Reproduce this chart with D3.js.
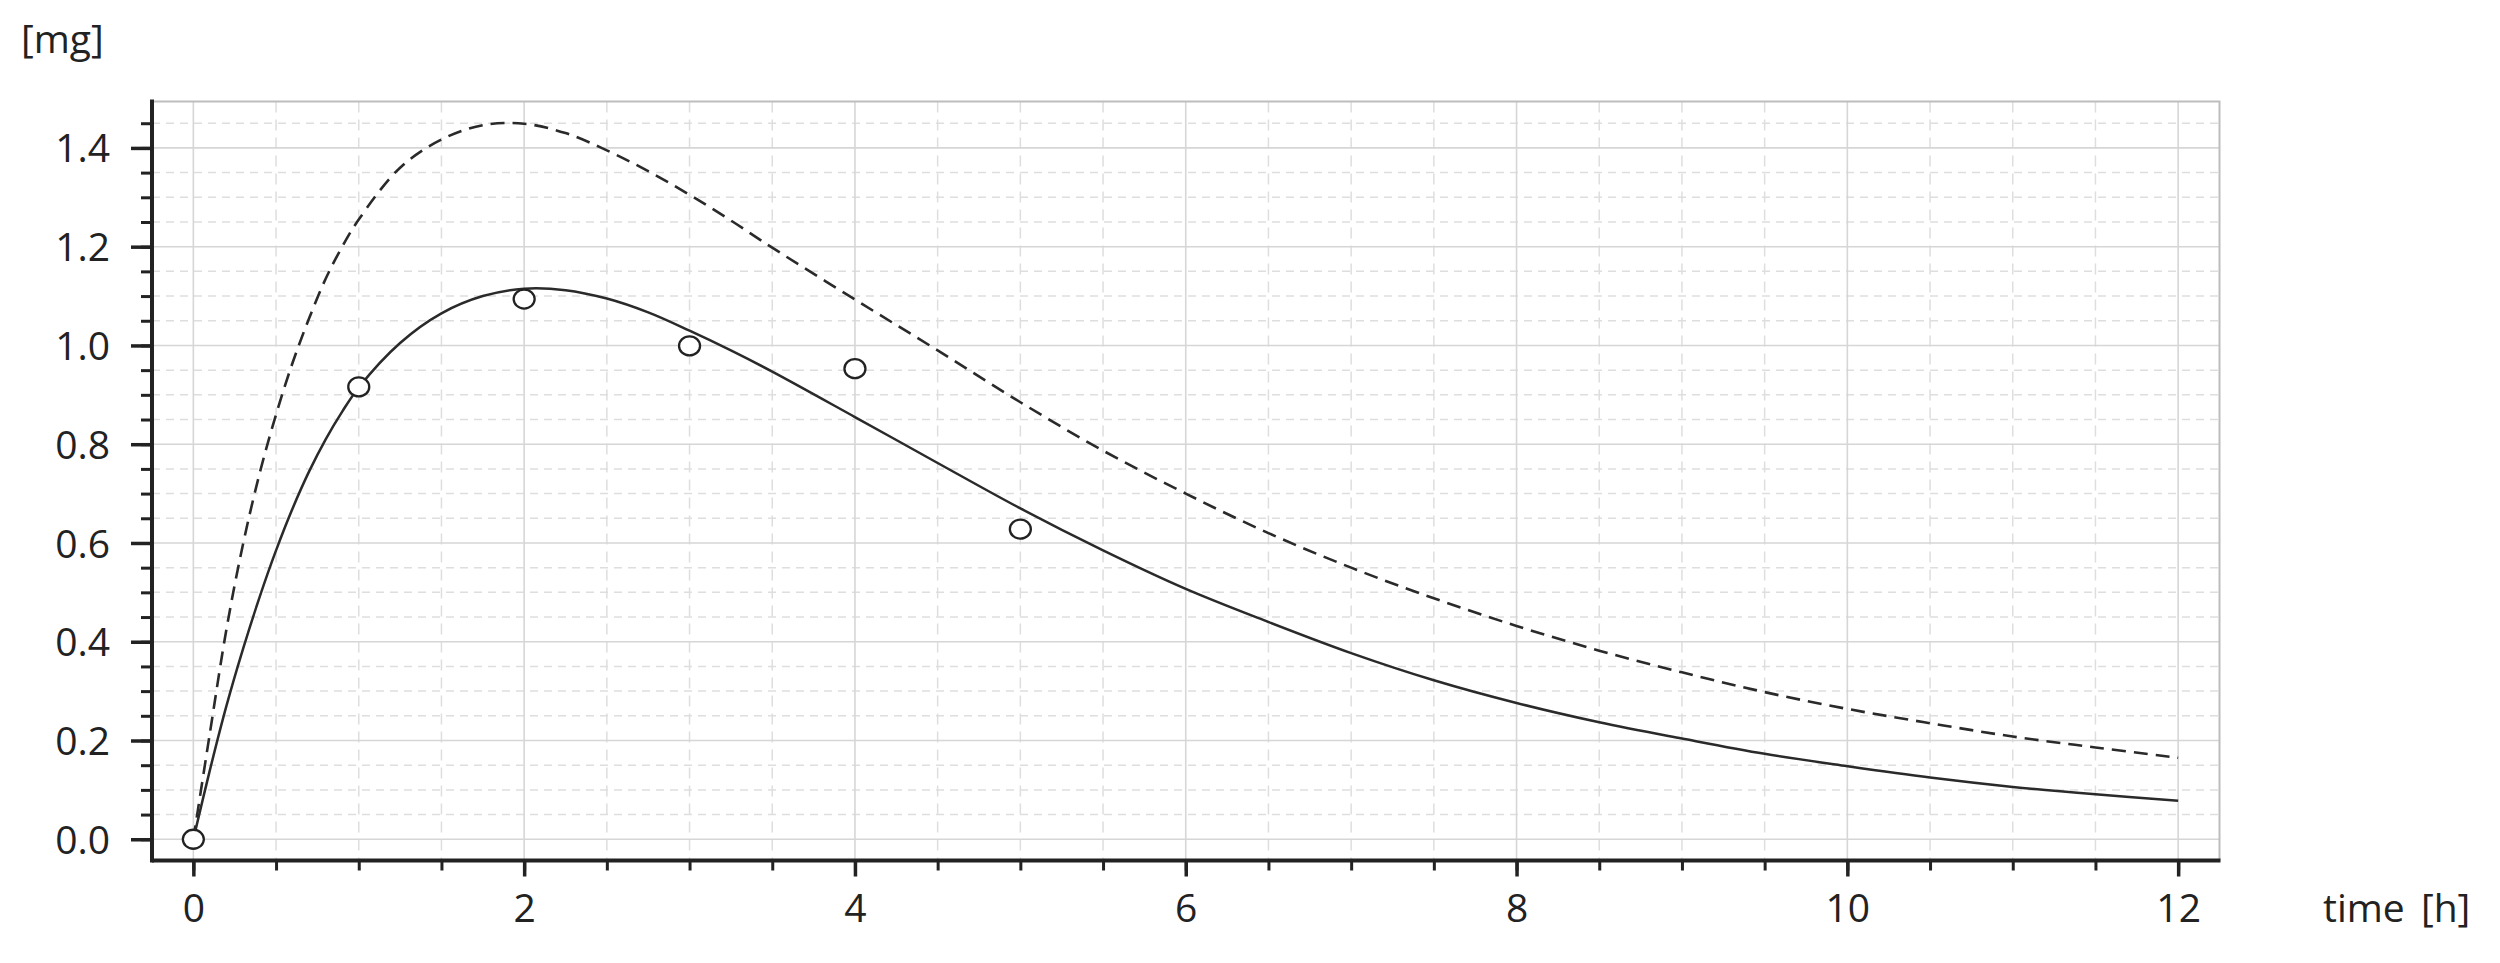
<!DOCTYPE html>
<html>
<head>
<meta charset="utf-8">
<script src="https://cdn.jsdelivr.net/npm/d3@7"></script>
<style>
  html, body { margin: 0; padding: 0; background: #fff; }
  svg { display: block; }
  text { font-family: "Open Sans", "DejaVu Sans", sans-serif; fill: #222; }
</style>
</head>
<body>
<svg id="chart" width="2500" height="963"></svg>
<script>
// ---- data ----
const curveTime = [0, 0.1, 0.2, 0.3, 0.4, 0.5, 0.6, 0.7, 0.8, 0.9, 1.0, 1.25, 1.5, 1.75, 2.0, 2.25, 2.5, 2.75, 3.0, 3.25, 3.5, 4.0, 4.5, 5.0, 5.5, 6.0, 6.5, 7.0, 7.5, 8.0, 8.5, 9.0, 9.5, 10.0, 10.5, 11.0, 11.5, 12.0];
const fittedAmount = [0, 0.14, 0.27, 0.385, 0.49, 0.585, 0.67, 0.745, 0.81, 0.866, 0.915, 1.005, 1.065, 1.10, 1.115, 1.112, 1.095, 1.067, 1.03, 0.99, 0.947, 0.855, 0.762, 0.67, 0.585, 0.507, 0.44, 0.377, 0.322, 0.276, 0.237, 0.204, 0.173, 0.148, 0.125, 0.106, 0.091, 0.078];
const dashedAmount = [0, 0.215, 0.425, 0.597, 0.74, 0.86, 0.965, 1.055, 1.135, 1.20, 1.255, 1.36, 1.417, 1.446, 1.449, 1.43, 1.395, 1.353, 1.305, 1.253, 1.198, 1.093, 0.99, 0.885, 0.787, 0.70, 0.62, 0.55, 0.488, 0.432, 0.382, 0.338, 0.298, 0.264, 0.235, 0.208, 0.186, 0.165];
const obsTime = [0, 1, 2, 3, 4, 5];
const obsAmount = [0, 0.916, 1.094, 0.999, 0.953, 0.628];
const xTickValues = [0, 2, 4, 6, 8, 10, 12];
const xTickLabels = ["0", "2", "4", "6", "8", "10", "12"];
const yTickValues = [0, 0.2, 0.4, 0.6, 0.8, 1.0, 1.2, 1.4];
const yTickLabels = ["0.0", "0.2", "0.4", "0.6", "0.8", "1.0", "1.2", "1.4"];
const xMinorValues = d3.range(0, 12.001, 0.5);
const yMinorValues = d3.range(0, 1.4501, 0.05);
const yUnit = "[mg]";
const xUnit = "time [h]";

// ---- layout ----
const L = 152, R = 2219.5, T = 101.5, B = 860.5;
const FS = 39;
const svg = d3.select("#chart");

const x = d3.scaleLinear().domain([-0.25, 12.25]).range([L, R]);
const y = d3.scaleLinear().domain([-0.043, 1.494]).range([B, T]);

const near = (v, arr) => arr.some(a => Math.abs(a - v) < 1e-6);

// grid
const grid = svg.append("g");
grid.selectAll("line.vmin").data(xMinorValues.filter(v => !near(v, xTickValues)))
  .join("line").attr("x1", d => x(d)).attr("x2", d => x(d)).attr("y1", T).attr("y2", B)
  .attr("stroke", "#dedede").attr("stroke-width", 1.5).attr("stroke-dasharray", "11,7");
grid.selectAll("line.hmin").data(yMinorValues.filter(v => !near(v, yTickValues)))
  .join("line").attr("x1", L).attr("x2", R).attr("y1", d => y(d)).attr("y2", d => y(d))
  .attr("stroke", "#dedede").attr("stroke-width", 1.5).attr("stroke-dasharray", "8,6");
grid.selectAll("line.vmaj").data(xTickValues)
  .join("line").attr("x1", d => x(d)).attr("x2", d => x(d)).attr("y1", T).attr("y2", B)
  .attr("stroke", "#d6d6d6").attr("stroke-width", 1.6);
grid.selectAll("line.hmaj").data(yTickValues)
  .join("line").attr("x1", L).attr("x2", R).attr("y1", d => y(d)).attr("y2", d => y(d))
  .attr("stroke", "#d6d6d6").attr("stroke-width", 1.6);

// border top / right
svg.append("path").attr("d", `M${L},${T}H${R}V${B}`).attr("fill", "none")
  .attr("stroke", "#bdbdbd").attr("stroke-width", 2);

// curves
const line = (vals) => d3.line().x((d, i) => x(curveTime[i])).y(d => y(d))
  .curve(d3.curveCatmullRom.alpha(0.5))(vals);
svg.append("path").attr("d", line(dashedAmount)).attr("fill", "none")
  .attr("stroke", "#2a2a2a").attr("stroke-width", 2.6).attr("stroke-dasharray", "14,8");
svg.append("path").attr("d", line(fittedAmount)).attr("fill", "none")
  .attr("stroke", "#2a2a2a").attr("stroke-width", 2.5);

// observations
svg.selectAll("ellipse.obs").data(obsTime).join("ellipse")
  .attr("cx", d => x(d)).attr("cy", (d, i) => y(obsAmount[i])).attr("rx", 10.5).attr("ry", 9.5)
  .attr("fill", "#fff").attr("stroke", "#222").attr("stroke-width", 2.3);

// axes
const xMinorAxis = d3.axisBottom(x).tickValues(xMinorValues).tickSize(10).tickFormat("").tickSizeOuter(0);
const gxm = svg.append("g").attr("transform", `translate(0,${B})`).call(xMinorAxis);
gxm.select(".domain").remove();
gxm.selectAll(".tick line").attr("stroke", "#222").attr("stroke-width", 3);

const xAxis = d3.axisBottom(x).tickValues(xTickValues).tickSize(16).tickSizeOuter(0)
  .tickFormat((d, i) => xTickLabels[i]);
const gx = svg.append("g").attr("transform", `translate(0,${B})`).call(xAxis);
gx.select(".domain").attr("stroke", "#222").attr("stroke-width", 4).attr("d", `M${L},0H${R + 1}`);
gx.selectAll(".tick line").attr("stroke", "#222").attr("stroke-width", 3.5);
gx.selectAll(".tick text").attr("y", 922 - B).attr("dy", 0)
  .style("font-size", FS + "px").style("font-family", '"Open Sans", sans-serif').attr("fill", "#222");

const yMinorAxis = d3.axisLeft(y).tickValues(yMinorValues).tickSize(11).tickFormat("").tickSizeOuter(0);
const gym = svg.append("g").attr("transform", `translate(${L},0)`).call(yMinorAxis);
gym.select(".domain").remove();
gym.selectAll(".tick line").attr("stroke", "#222").attr("stroke-width", 3);

const yAxis = d3.axisLeft(y).tickValues(yTickValues).tickSize(21).tickPadding(21).tickSizeOuter(0)
  .tickFormat((d, i) => yTickLabels[i]);
const gy = svg.append("g").attr("transform", `translate(${L},0)`).call(yAxis);
gy.select(".domain").attr("stroke", "#222").attr("stroke-width", 4).attr("d", `M0,${T - 2}V${B + 2}`);
gy.selectAll(".tick line").attr("stroke", "#222").attr("stroke-width", 3.5);
gy.selectAll(".tick text").attr("dy", "0.36em")
  .style("font-size", FS + "px").style("font-family", '"Open Sans", sans-serif').attr("fill", "#222");

// unit labels
svg.append("text").attr("x", 21).attr("y", 53).style("font-size", FS + "px").text(yUnit);
svg.append("text").attr("x", 2323).attr("y", 922).style("font-size", FS + "px")
  .style("word-spacing", "6px").text(xUnit);
</script>
</body>
</html>
